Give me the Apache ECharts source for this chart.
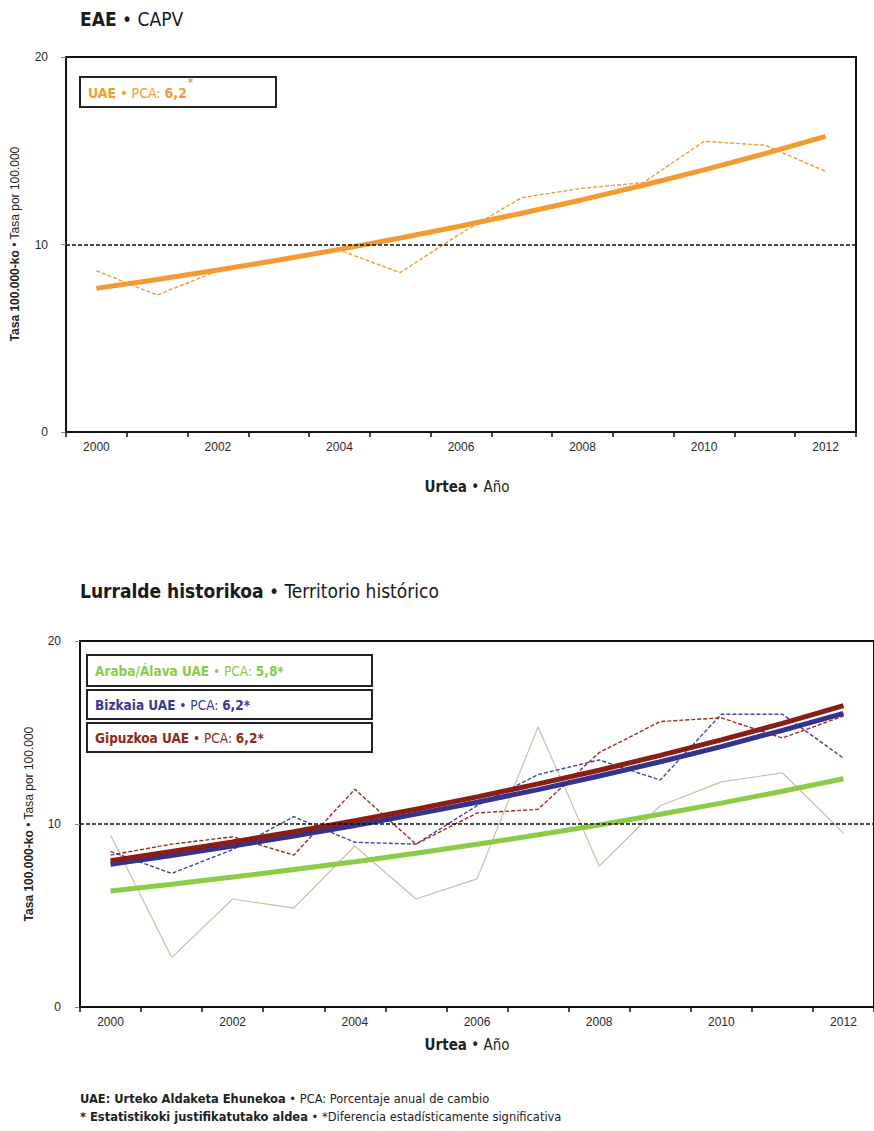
<!DOCTYPE html>
<html>
<head>
<meta charset="utf-8">
<script src="https://cdn.jsdelivr.net/npm/echarts@6/dist/echarts.min.js"></script>
<style>
  html, body { margin: 0; padding: 0; background: #fff; }
  #chart { width: 874px; height: 1131px; }
</style>
</head>
<body>
<div id="chart"></div>
<script>
// ---- Data ----
const years = ['2000','2001','2002','2003','2004','2005','2006','2007','2008','2009','2010','2011','2012'];

// EAE / CAPV
const eaeObserved = [8.6, 7.3, 8.6, 9.1, 9.7, 8.5, 10.6, 12.5, 13.0, 13.3, 15.5, 15.3, 13.9];
const eaeTrend    = [7.66, 8.13, 8.64, 9.17, 9.74, 10.35, 10.99, 11.67, 12.39, 13.16, 13.98, 14.85, 15.77];

// Territorio histórico
const arabaObserved    = [9.4, 2.7, 5.9, 5.4, 8.8, 5.9, 7.0, 15.3, 7.7, 11.0, 12.3, 12.8, 9.5];
const arabaTrend       = [6.34, 6.71, 7.10, 7.51, 7.94, 8.40, 8.89, 9.41, 9.95, 10.53, 11.14, 11.79, 12.47];
const bizkaiaObserved  = [8.5, 7.3, 8.6, 10.4, 9.0, 8.9, 11.0, 12.7, 13.5, 12.4, 16.0, 16.0, 13.6];
const bizkaiaTrend     = [7.80, 8.28, 8.80, 9.34, 9.92, 10.54, 11.19, 11.88, 12.62, 13.40, 14.23, 15.12, 16.05];
const gipuzkoaObserved = [8.3, 8.9, 9.3, 8.3, 11.9, 8.9, 10.6, 10.8, 13.9, 15.6, 15.8, 14.7, 15.9];
const gipuzkoaTrend    = [8.00, 8.50, 9.02, 9.58, 10.18, 10.81, 11.48, 12.19, 12.94, 13.75, 14.60, 15.50, 16.47];

const referenceLine = 10;
const yMin = 0, yMax = 20, yStep = 10;

// Texts
const title1 = ['EAE', ' • CAPV'];
const title2 = ['Lurralde historikoa', ' • Territorio histórico'];
const xName = ['Urtea', ' • Año'];
const yName = ['Tasa 100.000-ko', ' • Tasa por 100.000'];
const eaeLegend = ['UAE', ' • PCA: ', '6,2', '*'];
const arabaLegend = ['Araba/Álava UAE', ' • PCA: ', '5,8*'];
const bizkaiaLegend = ['Bizkaia UAE', ' • PCA: ', '6,2*'];
const gipuzkoaLegend = ['Gipuzkoa UAE', ' • PCA: ', '6,2*'];
const footer1 = ['UAE: Urteko Aldaketa Ehunekoa', ' • PCA: Porcentaje anual de cambio'];
const footer2 = ['* Estatistikoki justifikatutako aldea', ' • *Diferencia estadísticamente significativa'];

// ---- Styles ----
const COND = "'Liberation Sans Narrow','DejaVu Sans Condensed','Roboto',sans-serif";
const ARIAL = "'Liberation Sans','Arial',sans-serif";
const ORANGE = '#F39A33';
const GREEN = '#8CCB46';
const BLUE = '#33338F';
const BLUE_D = '#45459E';
const RED = '#8B1D14';
const RED_D = '#9A2E1E';
const TAN = '#CDBFA4';

function richText(parts, color, size, family) {
  return {
    text: '{b|' + parts[0] + '}{n|' + parts[1] + '}',
    rich: {
      b: { fontWeight: 'bold', fontSize: size, fontFamily: family, fill: color, color: color },
      n: { fontWeight: 'normal', fontSize: size, fontFamily: family, fill: color, color: color }
    }
  };
}
function legendText(parts, color, size) {
  return {
    text: '{b|' + parts[0] + '}{n|' + parts[1] + '}{b|' + parts[2] + '}',
    rich: {
      b: { fontWeight: 'bold', fontSize: size, fontFamily: COND, fill: color, color: color },
      n: { fontWeight: 'normal', fontSize: size, fontFamily: COND, fill: color, color: color }
    }
  };
}

function makeXAxis(gridIndex, margin) {
  return {
    type: 'category', gridIndex: gridIndex, data: years, boundaryGap: true,
    axisLine: { show: true, lineStyle: { color: '#111', width: 2 } },
    axisTick: { show: true, interval: 0, length: 5, lineStyle: { color: '#111', width: 1.5 } },
    axisLabel: { interval: 1, margin: margin, color: '#2a2a2a', fontSize: 12, fontFamily: ARIAL },
    splitLine: { show: false }
  };
}
function makeYAxis(gridIndex, margin) {
  return {
    type: 'value', gridIndex: gridIndex, min: yMin, max: yMax, interval: yStep,
    axisLine: { show: true, lineStyle: { color: '#111', width: 2 } },
    axisTick: { show: true, length: 5, lineStyle: { color: '#888', width: 1 } },
    axisLabel: { margin: margin, color: '#2a2a2a', fontSize: 12, fontFamily: ARIAL },
    splitLine: { show: false }
  };
}
function refMark() {
  return {
    silent: true, symbol: 'none', animation: false,
    label: { show: false },
    lineStyle: { color: '#111', type: [4, 2], width: 1.6 },
    data: [{ yAxis: referenceLine }]
  };
}
function line(xi, data, color, width, dashed, z) {
  return {
    type: 'line', xAxisIndex: xi, yAxisIndex: xi, data: data,
    symbol: 'none', smooth: false, z: z,
    lineStyle: { color: color, width: width, type: dashed ? [4, 2] : 'solid', cap: 'butt' },
    emphasis: { disabled: true }
  };
}

const chart = echarts.init(document.getElementById('chart'), null, { renderer: 'svg' });

const sObs = line(0, eaeObserved, ORANGE, 1.4, true, 2);
sObs.markLine = refMark();
const sAraObs = line(1, arabaObserved, TAN, 1.2, false, 2);
sAraObs.markLine = refMark();

const option = {
  animation: false,
  backgroundColor: '#fff',
  grid: [
    { left: 66, top: 57, width: 790, height: 375, show: true, borderColor: '#111', borderWidth: 2, backgroundColor: 'transparent' },
    { left: 80, top: 641, width: 806, height: 366, show: true, borderColor: '#111', borderWidth: 2, backgroundColor: 'transparent' }
  ],
  xAxis: [ makeXAxis(0, 9), makeXAxis(1, 9) ],
  yAxis: [ makeYAxis(0, 18), makeYAxis(1, 19) ],
  series: [
    sObs,
    line(0, eaeTrend, ORANGE, 5, false, 3),
    sAraObs,
    line(1, bizkaiaObserved, BLUE_D, 1.4, true, 2),
    line(1, gipuzkoaObserved, RED_D, 1.4, true, 2),
    line(1, arabaTrend, GREEN, 5, false, 3),
    line(1, bizkaiaTrend, BLUE, 5, false, 3),
    line(1, gipuzkoaTrend, RED, 5, false, 3)
  ],
  graphic: [
    // section titles
    { type: 'text', left: 80, top: 9, style: richText(title1, '#1a1a1a', 19, COND) },
    { type: 'text', left: 80, top: 581, style: richText(title2, '#1a1a1a', 19, COND) },
    // y axis names
    { type: 'text', x: 15, y: 244, rotation: Math.PI / 2,
      style: Object.assign(richText(yName, '#222', 12, ARIAL), { align: 'center', verticalAlign: 'middle' }) },
    { type: 'text', x: 29, y: 824, rotation: Math.PI / 2,
      style: Object.assign(richText(yName, '#222', 12, ARIAL), { align: 'center', verticalAlign: 'middle' }) },
    // x axis names
    { type: 'text', x: 467, y: 487,
      style: Object.assign(richText(xName, '#222', 15, COND), { align: 'center', verticalAlign: 'middle' }) },
    { type: 'text', x: 467, y: 1045,
      style: Object.assign(richText(xName, '#222', 15, COND), { align: 'center', verticalAlign: 'middle' }) },
    // top legend box
    { type: 'rect', z: 10, shape: { x: 80, y: 77, width: 196, height: 30 },
      style: { fill: '#fff', stroke: '#222', lineWidth: 2 } },
    { type: 'text', z: 11, x: 88, y: 93,
      style: Object.assign(legendText(eaeLegend, ORANGE, 14), { verticalAlign: 'middle' }) },
    { type: 'text', z: 11, x: 188, y: 82,
      style: { text: eaeLegend[3], fill: ORANGE, fontSize: 11, fontWeight: 'bold', fontFamily: COND, verticalAlign: 'middle' } },
    // bottom legend boxes
    { type: 'rect', z: 10, shape: { x: 87, y: 655, width: 285, height: 31 },
      style: { fill: '#fff', stroke: '#222', lineWidth: 2 } },
    { type: 'text', z: 11, x: 95, y: 671,
      style: Object.assign(legendText(arabaLegend, GREEN, 13.5), { verticalAlign: 'middle' }) },
    { type: 'rect', z: 10, shape: { x: 87, y: 690, width: 285, height: 29 },
      style: { fill: '#fff', stroke: '#222', lineWidth: 2 } },
    { type: 'text', z: 11, x: 95, y: 705,
      style: Object.assign(legendText(bizkaiaLegend, '#3A3A96', 13.5), { verticalAlign: 'middle' }) },
    { type: 'rect', z: 10, shape: { x: 87, y: 723, width: 285, height: 29 },
      style: { fill: '#fff', stroke: '#222', lineWidth: 2 } },
    { type: 'text', z: 11, x: 95, y: 738,
      style: Object.assign(legendText(gipuzkoaLegend, '#8E2A1B', 13.5), { verticalAlign: 'middle' }) },
    // footers
    { type: 'text', x: 80, y: 1098,
      style: Object.assign(richText(footer1, '#222', 12.75, COND), { verticalAlign: 'middle' }) },
    { type: 'text', x: 80, y: 1116,
      style: Object.assign(richText(footer2, '#222', 12.75, COND), { verticalAlign: 'middle' }) }
  ]
};
chart.setOption(option);
</script>
</body>
</html>
